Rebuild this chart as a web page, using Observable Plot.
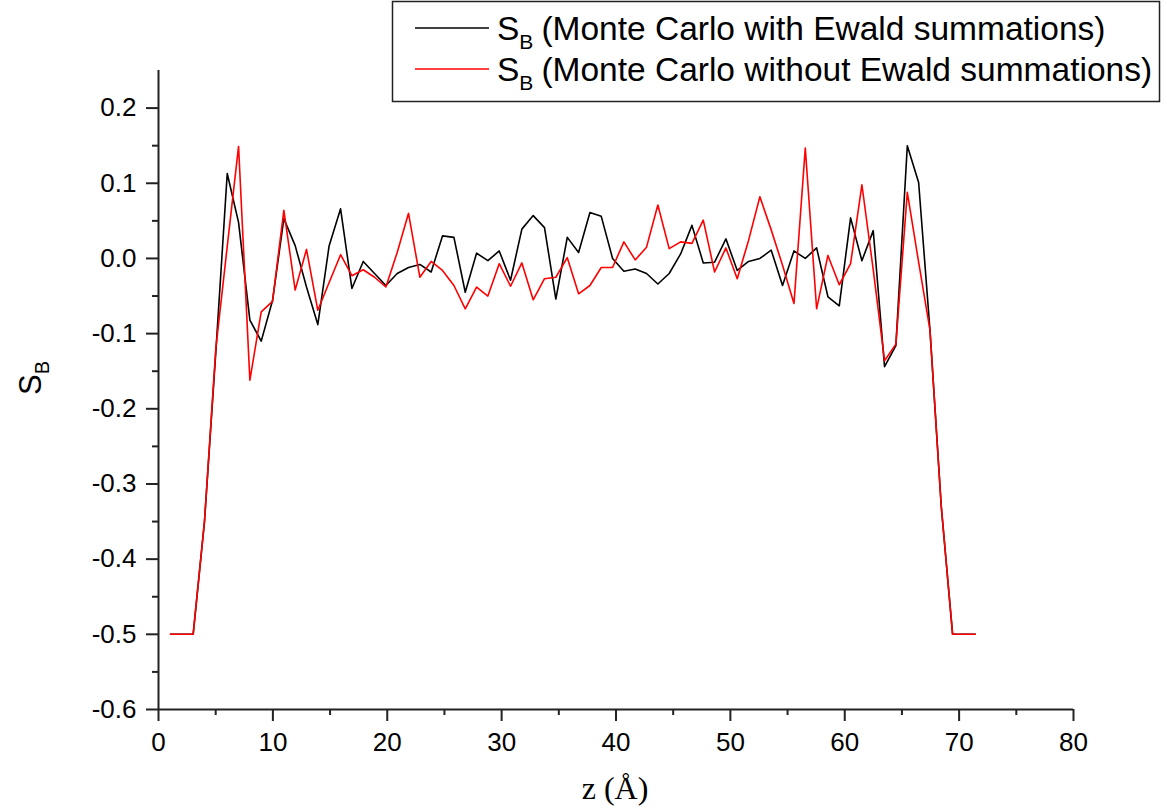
<!DOCTYPE html>
<html>
<head>
<meta charset="utf-8">
<script src="https://cdn.jsdelivr.net/npm/d3@7"></script>
<script src="https://cdn.jsdelivr.net/npm/@observablehq/plot@0.6"></script>
<style>
  html, body { margin: 0; padding: 0; background: #fff; }
  #chart { width: 1167px; height: 809px; }
</style>
</head>
<body>
<div id="chart"></div>
<script>
// z positions (Å)
const z = [1.05, 2.04, 3.03, 4.02, 5.01, 6.01, 7.00, 7.99, 8.98, 9.97,
  10.96, 11.95, 12.94, 13.93, 14.92, 15.92, 16.91, 17.90, 18.89, 19.88,
  20.87, 21.86, 22.85, 23.84, 24.83, 25.83, 26.82, 27.81, 28.80, 29.79,
  30.78, 31.77, 32.76, 33.75, 34.74, 35.74, 36.73, 37.72, 38.71, 39.70,
  40.69, 41.68, 42.67, 43.66, 44.65, 45.65, 46.64, 47.63, 48.62, 49.61,
  50.60, 51.59, 52.58, 53.57, 54.56, 55.56, 56.55, 57.54, 58.53, 59.52,
  60.51, 61.50, 62.49, 63.48, 64.47, 65.47, 66.46, 67.45, 68.44, 69.43,
  70.42, 71.41];

// S_B, Monte Carlo with Ewald summations (black)
const sbEwald = [-0.5, -0.5, -0.5, -0.35, -0.125, 0.113, 0.048, -0.082, -0.110, -0.056,
  0.053, 0.017, -0.038, -0.088, 0.017, 0.066, -0.040, -0.004, -0.020, -0.036,
  -0.020, -0.012, -0.008, -0.018, 0.030, 0.028, -0.045, 0.007, -0.003, 0.010,
  -0.029, 0.039, 0.057, 0.041, -0.054, 0.028, 0.008, 0.061, 0.056, 0.000,
  -0.017, -0.014, -0.020, -0.034, -0.020, 0.006, 0.044, -0.006, -0.005, 0.026,
  -0.016, -0.004, 0.000, 0.011, -0.036, 0.010, 0.000, 0.014, -0.051, -0.063,
  0.054, -0.003, 0.037, -0.144, -0.116, 0.150, 0.101, -0.095, -0.33, -0.5,
  -0.5, -0.5];

// S_B, Monte Carlo without Ewald summations (red)
const sbNoEwald = [-0.5, -0.5, -0.5, -0.35, -0.12, 0.016, 0.149, -0.162, -0.071, -0.057,
  0.064, -0.042, 0.012, -0.069, -0.032, 0.005, -0.023, -0.015, -0.025, -0.038,
  0.008, 0.060, -0.025, -0.004, -0.016, -0.036, -0.067, -0.038, -0.050, -0.007,
  -0.037, -0.006, -0.055, -0.027, -0.025, 0.001, -0.047, -0.036, -0.012, -0.012,
  0.022, -0.002, 0.015, 0.071, 0.013, 0.022, 0.020, 0.051, -0.018, 0.014,
  -0.027, 0.024, 0.082, 0.038, -0.009, -0.060, 0.147, -0.067, 0.004, -0.035,
  -0.007, 0.098, -0.015, -0.136, -0.114, 0.088, -0.005, -0.095, -0.33, -0.5,
  -0.5, -0.5];

const xTicks = [0, 10, 20, 30, 40, 50, 60, 70, 80];
const xMinor = [5, 15, 25, 35, 45, 55, 65, 75];
const yTicks = [-0.6, -0.5, -0.4, -0.3, -0.2, -0.1, 0.0, 0.1, 0.2];
const yMinor = [-0.55, -0.45, -0.35, -0.25, -0.15, -0.05, 0.05, 0.15];

const seriesNames = ["(Monte Carlo with Ewald summations)", "(Monte Carlo without Ewald summations)"];
const seriesColors = ["#000000", "#ff0000"];

const dataEwald = z.map((v, i) => ({z: v, sb: sbEwald[i]}));
const dataNo = z.map((v, i) => ({z: v, sb: sbNoEwald[i]}));

const axisColor = "#222";
const chart = Plot.plot({
  width: 1167,
  height: 809,
  marginLeft: 158,
  marginRight: 94,
  marginTop: 70,
  marginBottom: 100,
  style: {fontFamily: "'Liberation Sans', Arial, sans-serif", fontSize: "26px", color: "#000", background: "#fff", overflow: "visible"},
  x: {domain: [0, 80]},
  y: {domain: [-0.6, 0.25]},
  marks: [
    Plot.line(dataEwald, {x: "z", y: "sb", stroke: seriesColors[0], strokeWidth: 1.6}),
    Plot.line(dataNo, {x: "z", y: "sb", stroke: seriesColors[1], strokeWidth: 1.6}),
    Plot.axisX({ticks: xTicks, tickSize: 12, tickPadding: 11, tickFormat: d => String(d), label: null, stroke: axisColor, strokeWidth: 2, fill: "#000"}),
    Plot.axisX({ticks: xMinor, tickSize: 6, text: null, label: null, stroke: axisColor, strokeWidth: 2}),
    Plot.axisY({ticks: yTicks, tickSize: 12, tickPadding: 10, tickFormat: d => d.toFixed(1), label: null, stroke: axisColor, strokeWidth: 2, fill: "#000"}),
    Plot.axisY({ticks: yMinor, tickSize: 6, text: null, label: null, stroke: axisColor, strokeWidth: 2}),
    Plot.ruleY([-0.6], {x1: 0, x2: 80, stroke: axisColor, strokeWidth: 2}),
    Plot.ruleX([0], {y1: -0.6, y2: 0.25, stroke: axisColor, strokeWidth: 2})
  ]
});
document.getElementById("chart").appendChild(chart);

// annotations (legend, axis labels with subscripts)
const svg = d3.select(chart);
const sans = "'Liberation Sans', Arial, sans-serif";

// y label S_B
const yl = svg.append("text")
  .attr("transform", "translate(41,378) rotate(-90)")
  .attr("text-anchor", "middle")
  .attr("font-family", sans)
  .attr("font-size", 31)
  .attr("fill", "#000");
yl.append("tspan").text("S");
yl.append("tspan").attr("font-size", 20).attr("dy", 8).text("B");

// x label
svg.append("text")
  .attr("x", 615).attr("y", 799)
  .attr("text-anchor", "middle")
  .attr("font-family", "'Liberation Serif', 'Times New Roman', serif")
  .attr("font-size", 32)
  .attr("fill", "#000")
  .text("z (Å)");

// legend box
const lg = svg.append("g");
lg.append("rect").attr("x", 392.5).attr("y", 1.5).attr("width", 767).attr("height", 100)
  .attr("fill", "#fff").attr("stroke", "#222").attr("stroke-width", 1.5);
seriesNames.forEach((name, i) => {
  const cy = 28 + i * 41;
  lg.append("line").attr("x1", 415).attr("x2", 489).attr("y1", cy).attr("y2", cy)
    .attr("stroke", seriesColors[i]).attr("stroke-width", 1.6);
  const t = lg.append("text").attr("x", 497).attr("y", cy + 12)
    .attr("text-anchor", "start")
    .attr("font-family", sans).attr("font-size", 33.5).attr("fill", "#000");
  t.append("tspan").text("S");
  t.append("tspan").attr("font-size", 21).attr("dy", 9).text("B");
  t.append("tspan").attr("dy", -9).attr("dx", 8).text(name);
});
</script>
</body>
</html>
